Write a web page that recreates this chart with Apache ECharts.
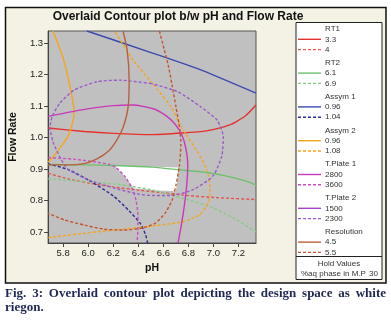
<!DOCTYPE html>
<html>
<head>
<meta charset="utf-8">
<script src="https://cdn.jsdelivr.net/npm/echarts@6/dist/echarts.min.js"></script>
<style>
html,body{margin:0;padding:0;background:#fff;}
#c{width:391px;height:327px;}
</style>
</head>
<body>
<div id="c"></div>
<script>
// ---- axis ranges & ticks ----
const xRange = [5.68, 7.34];
const yRange = [0.665, 1.338];
const xTicks = [5.8, 6.0, 6.2, 6.4, 6.6, 6.8, 7.0, 7.2];
const yTicks = [0.7, 0.8, 0.9, 1.0, 1.1, 1.2, 1.3];

// ---- contour lines (pH, Flow Rate) ----
const rt1_33 = [[5.68,1.030],[5.968,1.019],[6.202,1.013],[6.514,1.009],[6.748,1.014],[6.943,1.021],[7.130,1.040],[7.254,1.068],[7.34,1.103]];
const rt1_4 = [[5.68,0.886],[5.836,0.869],[6.007,0.855],[6.202,0.843],[6.397,0.833],[6.592,0.825],[6.787,0.816],[7.021,0.809],[7.34,0.803]];
const rt2_61 = [[5.68,0.914],[5.968,0.913],[6.202,0.911],[6.514,0.906],[6.763,0.896],[6.943,0.889],[7.099,0.878],[7.254,0.862],[7.34,0.849]];
const rt2_69 = [[5.68,0.869],[5.968,0.860],[6.241,0.851],[6.514,0.833],[6.748,0.808],[6.982,0.779],[7.176,0.741],[7.34,0.700]];
const assym1_096 = [[5.99,1.338],[6.514,1.268],[6.904,1.214],[7.34,1.141]];
const assym1_104 = [[5.68,0.916],[5.836,0.899],[6.015,0.862],[6.202,0.814],[6.327,0.767],[6.420,0.725],[6.459,0.690],[6.475,0.665]];
const assym2_096 = [[5.719,1.338],[5.797,1.256],[5.844,1.182],[5.875,1.119],[5.888,1.081],[5.871,1.040],[5.836,1.002],[5.781,0.970],[5.727,0.941],[5.68,0.922]];
const assym2_108 = [[5.68,0.682],[5.929,0.694],[6.202,0.706],[6.514,0.719],[6.748,0.732],[6.888,0.754],[6.958,0.792],[6.974,0.836],[6.950,0.897],[6.873,0.954],[6.795,1.002],[6.740,1.036],[6.662,1.097],[6.514,1.171],[6.358,1.246],[6.210,1.338]];
const tplate1_2800 = [[5.68,1.067],[5.937,1.087],[6.202,1.101],[6.358,1.103],[6.514,1.092],[6.615,1.071],[6.693,1.043],[6.748,1.008],[6.779,0.967],[6.795,0.913],[6.787,0.849],[6.763,0.770],[6.740,0.713],[6.717,0.665]];
const tplate1_3600 = [[5.68,0.936],[5.890,0.931],[6.046,0.923],[6.163,0.915],[6.218,0.906],[6.296,0.875],[6.350,0.840],[6.381,0.802],[6.397,0.754],[6.397,0.706],[6.389,0.665]];
const tplate2_1500 = [];
const tplate2_2300 = [[6.506,1.171],[6.249,1.182],[6.070,1.177],[5.890,1.151],[5.774,1.109],[5.711,1.065],[5.696,1.030],[5.719,0.986],[5.774,0.938],[5.836,0.900],[5.992,0.867],[6.202,0.840],[6.405,0.820],[6.514,0.816],[6.662,0.816],[6.841,0.835],[6.997,0.878],[7.067,0.941],[7.079,1.003],[7.029,1.055],[6.896,1.098],[6.717,1.145],[6.506,1.171]];
const res_45 = [[6.278,1.338],[6.311,1.278],[6.327,1.182],[6.319,1.097],[6.280,1.033],[6.233,0.995],[6.163,0.957],[6.070,0.932],[5.968,0.917],[5.813,0.913],[5.68,0.913]];
const res_55 = [[6.569,1.338],[6.608,1.278],[6.639,1.230],[6.670,1.166],[6.701,1.097],[6.732,1.024],[6.740,0.976],[6.728,0.909],[6.701,0.849],[6.670,0.801],[6.615,0.760],[6.537,0.728],[6.436,0.713],[6.280,0.706],[6.124,0.709],[5.968,0.722],[5.813,0.738],[5.68,0.759]];
const designSpace = [[6.210,0.911],[6.45,0.908],[6.717,0.905],[6.714,0.870],[6.700,0.830],[6.55,0.832],[6.36,0.839],[6.30,0.873]];

// ---- legend texts ----
const groupTitles = ['RT1', 'RT2', 'Assym 1', 'Assym 2', 'T.Plate 1', 'T.Plate 2', 'Resolution'];
const groupLevels = [['3.3', '4'], ['6.1', '6.9'], ['0.96', '1.04'], ['0.96', '1.08'], ['2800', '3600'], ['1500', '2300'], ['4.5', '5.5']];
const groupData = [[rt1_33, rt1_4], [rt2_61, rt2_69], [assym1_096, assym1_104], [assym2_096, assym2_108], [tplate1_2800, tplate1_3600], [tplate2_1500, tplate2_2300], [res_45, res_55]];
const holdTitle = 'Hold Values';
const holdName = '%aq phase in M.P';
const holdValue = '30';
const titleText = 'Overlaid Contour plot b/w pH and Flow Rate';
const captionLines = ['Fig. 3: Overlaid contour plot depicting the design space as white', 'riegon.'];

// ---- styles ----
const groupColors = [['#E5322B', '#E0574E'], ['#6DC06D', '#86CC86'], ['#3B4BB0', '#2B2C95'], ['#F5A51E', '#F5A51E'], ['#C83AB6', '#C94FC4'], ['#A143CC', '#9A5BCB'], ['#B9603E', '#C4542E']];
const FONT = 'Liberation Sans';
const LEGEND_FONT = '8px "' + FONT + '"';
const CAP_FONT = 'bold 13px "Liberation Serif"';

const series = [];
series.push({
  type: 'custom',
  name: 'design space',
  data: [designSpace[0]],
  z: 1,
  silent: true,
  renderItem: function (params, api) {
    return {
      type: 'polygon',
      shape: { points: designSpace.map(p => api.coord(p)) },
      style: { fill: '#ffffff' }
    };
  }
});
groupData.forEach((pair, gi) => {
  pair.forEach((d, li) => {
    series.push({
      type: 'line',
      name: groupTitles[gi] + ' ' + groupLevels[gi][li],
      data: d,
      showSymbol: false,
      smooth: 0.2,
      z: 3,
      silent: true,
      lineStyle: { color: groupColors[gi][li], width: 1.4, type: li === 0 ? 'solid' : [3, 2] }
    });
  });
});

// ---- legend graphics ----
const graphics = [];
graphics.push({ type: 'rect', z: -10, shape: { x: 5.5, y: 7.5, width: 380.5, height: 275.5 }, style: { fill: '#F4F2E4', stroke: '#111', lineWidth: 1.5 } });
graphics.push({ type: 'rect', z: 10, shape: { x: 296, y: 22.5, width: 86, height: 257 }, style: { fill: '#fff', stroke: '#222', lineWidth: 1 } });
const lx0 = 298, lx1 = 321, tx = 325;
groupTitles.forEach((t, gi) => {
  const base = 29 + gi * 33.8;
  graphics.push({ type: 'text', z: 11, x: tx, y: base, style: { text: t, font: LEGEND_FONT, fill: '#333', verticalAlign: 'middle' } });
  groupLevels[gi].forEach((lv, li) => {
    const yy = base + 10.3 * (li + 1);
    graphics.push({ type: 'line', z: 11, shape: { x1: lx0, y1: yy, x2: lx1, y2: yy }, style: { stroke: groupColors[gi][li], lineWidth: 1.4, lineDash: li === 0 ? null : [3, 2] } });
    graphics.push({ type: 'text', z: 11, x: tx, y: yy, style: { text: lv, font: LEGEND_FONT, fill: '#333', verticalAlign: 'middle' } });
  });
});
graphics.push({ type: 'line', z: 11, shape: { x1: 296, y1: 256.5, x2: 382, y2: 256.5 }, style: { stroke: '#222', lineWidth: 1 } });
graphics.push({ type: 'text', z: 11, x: 339, y: 264, style: { text: holdTitle, font: LEGEND_FONT, fill: '#333', align: 'center', verticalAlign: 'middle' } });
graphics.push({ type: 'text', z: 11, x: 301, y: 274, style: { text: holdName, font: LEGEND_FONT, fill: '#333', verticalAlign: 'middle' } });
graphics.push({ type: 'text', z: 11, x: 378, y: 274, style: { text: holdValue, font: LEGEND_FONT, fill: '#333', align: 'right', verticalAlign: 'middle' } });
// title
graphics.push({ type: 'text', z: 11, x: 178, y: 16.5, style: { text: titleText, font: 'bold 12px "' + FONT + '"', fill: '#111', align: 'center', verticalAlign: 'middle' } });
// caption: first line justified across the frame width, word by word
(function () {
  const ctx = document.createElement('canvas').getContext('2d');
  ctx.font = CAP_FONT;
  const words = captionLines[0].split(' ');
  const widths = words.map(w => ctx.measureText(w).width);
  const total = widths.reduce((a, b) => a + b, 0);
  const left = 5, right = 386;
  const gap = (right - left - total) / (words.length - 1);
  let x = left;
  words.forEach((w, i) => {
    graphics.push({ type: 'text', z: 11, x: x, y: 293.5, style: { text: w, font: CAP_FONT, fill: '#1f2752', verticalAlign: 'middle' } });
    x += widths[i] + gap;
  });
  graphics.push({ type: 'text', z: 11, x: left, y: 308, style: { text: captionLines[1], font: CAP_FONT, fill: '#1f2752', verticalAlign: 'middle' } });
})();

const chart = echarts.init(document.getElementById('c'), null, { renderer: 'canvas' });
chart.setOption({
  animation: false,
  backgroundColor: '#ffffff',
  grid: { left: 43, top: 31, width: 213, height: 212, show: true, backgroundColor: '#C0C0C0', borderColor: '#555', borderWidth: 1 },
  xAxis: {
    type: 'value', min: xRange[0], max: xRange[1],
    name: 'pH', nameLocation: 'middle', nameGap: 18,
    nameTextStyle: { fontFamily: FONT, fontWeight: 'bold', fontSize: 10.5, color: '#111' },
    splitLine: { show: false },
    axisLine: { lineStyle: { color: '#444', width: 1 } },
    axisTick: { length: 4, customValues: xTicks, lineStyle: { color: '#444' } },
    axisLabel: { customValues: xTicks, margin: 5, fontFamily: FONT, fontSize: 9.5, color: '#222', formatter: v => v.toFixed(1) }
  },
  yAxis: {
    type: 'value', min: yRange[0], max: yRange[1],
    name: 'Flow Rate', nameLocation: 'middle', nameGap: 25,
    nameTextStyle: { fontFamily: FONT, fontWeight: 'bold', fontSize: 10.5, color: '#111' },
    splitLine: { show: false },
    axisLine: { show: true, lineStyle: { color: '#444', width: 1 } },
    axisTick: { show: true, length: 4, customValues: yTicks, lineStyle: { color: '#444' } },
    axisLabel: { customValues: yTicks, margin: 5, fontFamily: FONT, fontSize: 9.5, color: '#222', formatter: v => v.toFixed(1) }
  },
  graphic: { elements: graphics },
  series: series
});
</script>
</body>
</html>
